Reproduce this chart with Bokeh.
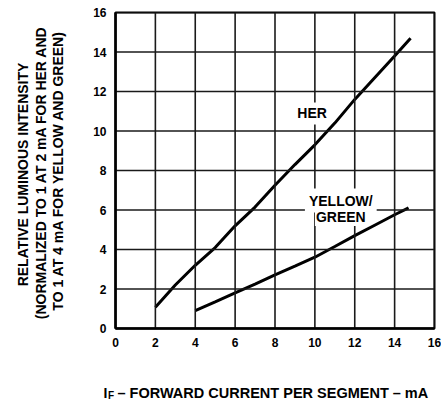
from bokeh.plotting import figure
from bokeh.models import Label, FixedTicker, Range1d
from bokeh.layouts import column, row
from bokeh.embed import file_html
from bokeh.resources import INLINE
import math

# Data
her_x = [2.0, 3.0, 4.0, 5.0, 6.0, 7.0, 8.0, 9.0, 10.0, 11.0, 12.0, 13.0, 14.0, 14.8]
her_y = [1.08, 2.2, 3.2, 4.1, 5.2, 6.15, 7.25, 8.3, 9.3, 10.4, 11.6, 12.7, 13.8, 14.7]
yg_x = [4.0, 5.0, 6.0, 7.0, 8.0, 9.0, 10.0, 11.0, 12.0, 13.0, 14.0, 14.7]
yg_y = [0.91, 1.35, 1.8, 2.25, 2.72, 3.16, 3.61, 4.15, 4.7, 5.23, 5.76, 6.11]
ticks = [0, 2, 4, 6, 8, 10, 12, 14, 16]
y_title = ["RELATIVE LUMINOUS INTENSITY",
           "(NORMALIZED TO 1 AT 2 mA FOR HER AND",
           "TO 1 AT 4 mA FOR YELLOW AND GREEN)"]
x_title = "\u00a0– FORWARD CURRENT PER SEGMENT\u00a0–\u00a0mA"

FONT = "Liberation Sans"
LO, HI = ticks[0], ticks[-1]

def text_label(fig, x, y, text, units="data", **kw):
    d = dict(text_font=FONT, text_font_style="bold", text_font_size="14px",
             text_color="black", text_align="center", text_baseline="middle",
             x_units=units, y_units=units)
    d.update(kw)
    fig.add_layout(Label(x=x, y=y, text=text, **d))

def blank(width, height):
    f = figure(width=width, height=height, output_backend="svg", toolbar_location=None,
               x_axis_location=None, y_axis_location=None, min_border=0,
               x_range=Range1d(0, 1), y_range=Range1d(0, 1))
    f.grid.visible = False
    f.outline_line_color = None
    return f

# Main chart
p = figure(width=371, height=376, output_backend="svg", toolbar_location=None,
           x_range=Range1d(LO, HI), y_range=Range1d(LO, HI),
           min_border_left=45, min_border_right=7, min_border_top=12, min_border_bottom=48)

p.xaxis.ticker = FixedTicker(ticks=ticks)
p.yaxis.ticker = FixedTicker(ticks=ticks)
for ax in (p.xaxis, p.yaxis):
    ax.major_tick_in = 0
    ax.major_tick_out = 0
    ax.minor_tick_in = 0
    ax.minor_tick_out = 0
    ax.axis_line_width = 2.5
    ax.axis_line_color = "black"
    ax.major_label_text_font = FONT
    ax.major_label_text_font_style = "bold"
    ax.major_label_text_font_size = "12px"
    ax.major_label_text_color = "black"
p.xaxis.major_label_standoff = 9
p.yaxis.major_label_standoff = 9

p.outline_line_color = "black"
p.outline_line_width = 2
p.outline_line_alpha = 1

p.line(her_x, her_y, line_color="black", line_width=3)
p.line(yg_x, yg_y, line_color="black", line_width=3)

# grid lines from the tick list, drawn after the curves
p.grid.visible = False
grid_xs = [[t, t] for t in ticks] + [[LO, HI] for t in ticks]
grid_ys = [[LO, HI] for t in ticks] + [[t, t] for t in ticks]
p.multi_line(xs=grid_xs, ys=grid_ys, line_color="#1a1a1a", line_width=1.6)

text_label(p, 9.86, 10.89, "HER", background_fill_color="white", padding=3)
text_label(p, 11.3, 6.48, "YELLOW/", background_fill_color="white", padding=4)
text_label(p, 11.3, 5.64, "GREEN", background_fill_color="white", padding=1)

# Left panel: y-axis title in three rotated lines (screen y from frame bottom)
left = blank(70, 376)
for xs, ys, txt in zip([22, 40, 57], [154, 156, 158], y_title):
    text_label(left, xs, ys, txt, units="screen", angle=math.pi / 2)

# Bottom panel: x-axis title with subscript
bottom = blank(441, 24)
text_label(bottom, 105, 8, "I", units="screen")
text_label(bottom, 110.5, 5, "F", units="screen", text_font_size="10px")
text_label(bottom, 113, 8, x_title, units="screen", text_align="left",
           text_font_size="14.5px")

layout = column(row(left, p), bottom)
open("out.html", "w").write(file_html(layout, INLINE))
